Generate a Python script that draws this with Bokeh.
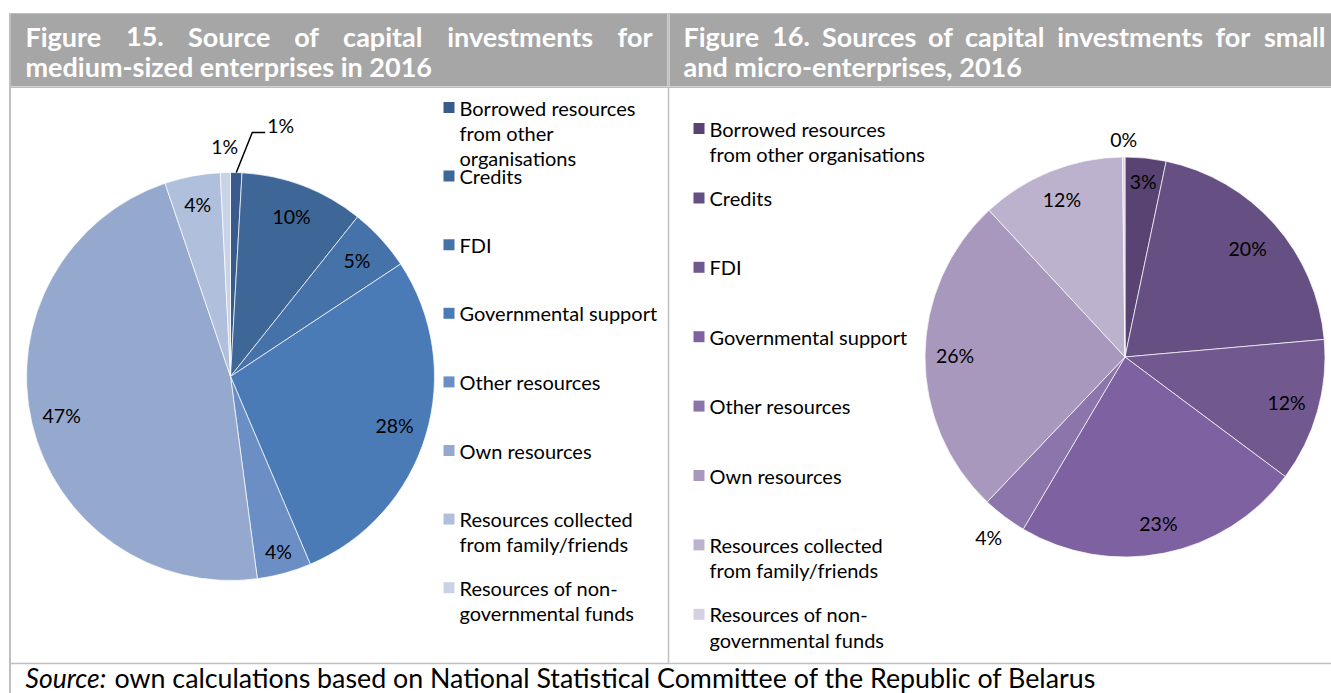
import math
from bokeh.plotting import figure
from bokeh.models import Range1d, ColumnDataSource
from bokeh.embed import file_html
from bokeh.resources import INLINE
from bokeh.core.properties import value

# ---------------- data ----------------
categories = [
    "Borrowed resources from other organisations",
    "Credits",
    "FDI",
    "Governmental support",
    "Other resources",
    "Own resources",
    "Resources collected from family/friends",
    "Resources of non-governmental funds",
]
medium_shares = [0.9, 9.8, 5.0, 27.9, 4.3, 46.9, 4.4, 0.8]
small_shares = [3.3, 20.3, 11.6, 23.3, 3.6, 26.0, 11.7, 0.2]

medium_colors = ["#385B8B", "#3E6697", "#4472A9", "#4A7BB7", "#6B8FC5", "#95A9CF", "#B0C0DC", "#C9D3E8"]
small_colors = ["#584372", "#664F82", "#71598F", "#7D61A0", "#8B75AB", "#A898BE", "#BDB2CE", "#D6D0E3"]

title_left = ["Figure 15. Source of capital investments for", "medium-sized enterprises in 2016"]
title_right = ["Figure 16. Sources of capital investments for small", "and micro-enterprises, 2016"]

legend_left_lines = [
    ["Borrowed resources", "from other", "organisations"],
    ["Credits"], ["FDI"], ["Governmental support"], ["Other resources"], ["Own resources"],
    ["Resources collected", "from family/friends"],
    ["Resources of non-", "governmental funds"],
]
legend_right_lines = [
    ["Borrowed resources", "from other organisations"],
    ["Credits"], ["FDI"], ["Governmental support"], ["Other resources"], ["Own resources"],
    ["Resources collected", "from family/friends"],
    ["Resources of non-", "governmental funds"],
]
source_label = "Source:"
source_text = "own calculations based on National Statistical Committee of the Republic of Belarus"

# ---------------- figure (page pixel coordinates, y = -page_y) ----------------
FONT = value("Lato")
p = figure(width=1331, height=693, x_range=Range1d(0, 1331), y_range=Range1d(-693, 0),
           output_backend="svg", toolbar_location=None, x_axis_type=None, y_axis_type=None,
           min_border=0)
p.outline_line_color = None
p.background_fill_color = "white"
p.border_fill_color = "white"
p.grid.visible = False

def Y(v):
    return -v

# header cells
p.quad(left=[9, 669], right=[667, 1331], top=[Y(13), Y(13)], bottom=[Y(86), Y(86)],
       fill_color="#A6A6A6", line_color=None)
# table borders
BC = "#BFBFBF"
p.segment(x0=[9.5, 668, 9, 9, 9], y0=[Y(13), Y(13), Y(87), Y(663), Y(13)],
          x1=[9.5, 668, 1331, 1331, 1331], y1=[Y(693), Y(663), Y(87), Y(663), Y(13)],
          line_color=BC, line_width=[2, 1.5, 1, 1.5, 1])

# ---------------- header text (justified first line) ----------------
CW = {'i': .27, 'j': .27, 'l': .27, '.': .27, ',': .27, 'f': .35, 't': .37, 'r': .39,
      's': .43, 'z': .46, 'c': .47, 'e': .53, 'a': .52, 'v': .52, 'g': .52, 'k': .52,
      'y': .52, 'x': .52, 'm': .86, 'w': .78, '-': .35, 'F': .56, 'S': .55}

def est_width(word, size):
    w = 0
    for ch in word:
        if ch in CW:
            w += CW[ch]
        elif ch.isdigit():
            w += .58
        elif ch.isupper():
            w += .65
        else:
            w += .57
    return w * size

HSIZE = 27
def justified(line, x_left, x_right, yc):
    words = line.split(" ")
    widths = [est_width(w, HSIZE) for w in words]
    gap = (x_right - x_left - sum(widths)) / (len(words) - 1)
    xs, aligns = [], []
    x = x_left
    for k, (w, ww) in enumerate(zip(words, widths)):
        if k == 0:
            xs.append(x_left); aligns.append("left")
        elif k == len(words) - 1:
            xs.append(x_right); aligns.append("right")
        else:
            xs.append(x + ww / 2); aligns.append("center")
        x += ww + gap
    src = ColumnDataSource(dict(x=xs, y=[Y(yc)] * len(words), t=words, a=aligns))
    p.text(x="x", y="y", text="t", text_align="a", source=src, text_font=FONT,
           text_font_style="bold", text_font_size=f"{HSIZE}px", text_color="white",
           text_baseline="middle")

justified(title_left[0], 25, 652, 36)
justified(title_right[0], 683, 1325, 36)
p.text(x=[25, 683], y=[Y(66), Y(66)], text=[title_left[1], title_right[1]], text_font=FONT,
       text_font_style="bold", text_font_size=f"{HSIZE}px", text_color="white",
       text_baseline="middle")

# ---------------- pies ----------------
LSIZE = "19.5px"

def draw_pie(cx, cy, r, shares, colors, label_fracs):
    total = float(sum(shares))
    starts, ends, cum = [], [], 0.0
    for v in shares:
        starts.append(math.pi / 2 - 2 * math.pi * cum / total)
        cum += v
        ends.append(math.pi / 2 - 2 * math.pi * cum / total)
    src = ColumnDataSource(dict(s=starts, e=ends, c=colors))
    p.wedge(x=cx, y=Y(cy), radius=r, start_angle="s", end_angle="e", direction="clock",
            fill_color="c", line_color="white", line_width=0.7, source=src)
    lx, ly, lt = [], [], []
    for v, a0, a1, f in zip(shares, starts, ends, label_fracs):
        if f is None:
            continue
        m = (a0 + a1) / 2
        lx.append(cx + f * r * math.cos(m))
        ly.append(Y(cy) + f * r * math.sin(m))
        lt.append(f"{int(v + 0.5)}%")
    p.text(x=lx, y=ly, text=lt, text_font=FONT, text_font_size=LSIZE, text_color="black",
           text_align="center", text_baseline="middle")
    return starts, ends

# left pie (medium-sized)
LCX, LCY, LR = 230, 376, 204
ls, le = draw_pie(LCX, LCY, LR, medium_shares, medium_colors,
                  [None, 0.84, 0.84, 0.84, 0.89, 0.85, 0.86, 1.13])
# leader line for the first (tiny) slice
m0 = (ls[0] + le[0]) / 2
ex, ey = LCX + LR * math.cos(m0), Y(LCY) + LR * math.sin(m0)
p.line(x=[ex, ex + 16, ex + 29], y=[ey, ey + 40, ey + 40], line_color="black", line_width=1.5)
p.text(x=[ex + 31], y=[ey + 47], text=[f"{int(medium_shares[0] + 0.5)}%"], text_font=FONT,
       text_font_size=LSIZE, text_color="black", text_align="left", text_baseline="middle")

# right pie (small and micro)
draw_pie(1124.5, 356.5, 200, small_shares, small_colors,
         [0.88, 0.82, 0.84, 0.85, 1.13, 0.85, 0.85, 1.09])

# ---------------- legends ----------------
GSIZE = "20px"

def legend(lines, colors, sq_x, tx, y0, step, lstep):
    p.rect(x=[sq_x] * len(colors), y=[Y(y0 + step * i) for i in range(len(colors))],
           width=11, height=11, fill_color=colors, line_color=None)
    xs, ys, ts = [], [], []
    for i, ll in enumerate(lines):
        for j, t in enumerate(ll):
            xs.append(tx)
            ys.append(Y(y0 + step * i + lstep * j))
            ts.append(t)
    p.text(x=xs, y=ys, text=ts, text_font=FONT, text_font_size=GSIZE, text_color="black",
           text_align="left", text_baseline="middle")

legend(legend_left_lines, medium_colors, 448.5, 459, 107, 68.6, 25)
legend(legend_right_lines, small_colors, 698.5, 709, 128, 69.4, 25.5)

# ---------------- source ----------------
p.text(x=[25], y=[Y(677)], text=[source_label], text_font=FONT, text_font_style="italic",
       text_font_size="26.5px", text_color="black", text_baseline="middle")
p.text(x=[114], y=[Y(677)], text=[source_text], text_font=FONT,
       text_font_size="26.8px", text_color="black", text_baseline="middle")

open("out.html", "w").write(file_html(p, INLINE))
